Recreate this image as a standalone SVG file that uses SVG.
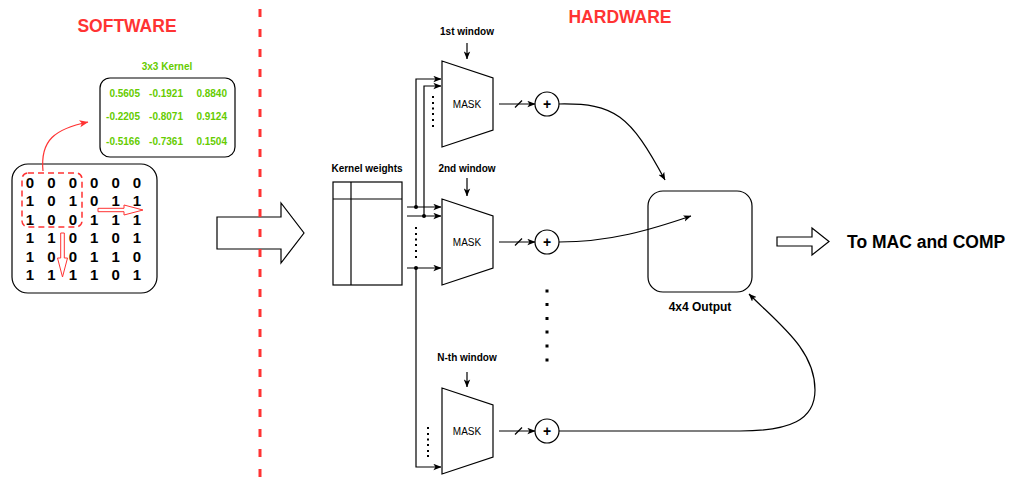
<svg xmlns="http://www.w3.org/2000/svg" width="1010" height="488" viewBox="0 0 1010 488">
<style>
  .ln{fill:none;stroke:#000;stroke-width:1.2}
  .shape{fill:#fff;stroke:#000;stroke-width:1.2}
  .t{font-family:"Liberation Sans",Arial,sans-serif;fill:#000}
  .b{font-weight:bold}
  .title{font-family:"Liberation Sans",Arial,sans-serif;font-weight:bold;font-size:17.5px;fill:#FF3333;text-anchor:middle}
  .g{font-family:"Liberation Sans",Arial,sans-serif;font-weight:bold;font-size:10px;fill:#66CC00;text-anchor:end}
  .d{font-family:"Liberation Sans",Arial,sans-serif;font-weight:bold;font-size:15px;fill:#000;text-anchor:middle}
  .dot{fill:#000}
</style>
<defs>
  <marker id="arr" viewBox="0 0 10 8" refX="9.5" refY="4" markerWidth="8" markerHeight="7" orient="auto" markerUnits="userSpaceOnUse">
    <path d="M0,0 L10,4 L0,8 L2.5,4 z" fill="#000"/>
  </marker>
  <marker id="arrR" viewBox="0 0 10 8" refX="9.5" refY="4" markerWidth="9" markerHeight="8" orient="auto" markerUnits="userSpaceOnUse">
    <path d="M0,0 L10,4 L0,8 L2.5,4 z" fill="#FF3333"/>
  </marker>
</defs>

<!-- Titles -->
<text class="title" x="127" y="32">SOFTWARE</text>
<text class="title" x="620" y="23">HARDWARE</text>

<!-- Software side -->
<g id="kernel">
  <text class="t b" x="167" y="69.5" font-size="10" fill="#66CC00" text-anchor="middle" style="fill:#66CC00">3x3 Kernel</text>
  <rect class="shape" x="100" y="78" width="135" height="79" rx="10"/>
  <text class="g" x="140" y="96.5">0.5605</text>
  <text class="g" x="183" y="96.5">-0.1921</text>
  <text class="g" x="227" y="96.5">0.8840</text>
  <text class="g" x="140" y="120">-0.2205</text>
  <text class="g" x="183" y="120">-0.8071</text>
  <text class="g" x="227" y="120">0.9124</text>
  <text class="g" x="140" y="144.5">-0.5166</text>
  <text class="g" x="183" y="144.5">-0.7361</text>
  <text class="g" x="227" y="144.5">0.1504</text>
</g>

<g id="matrix">
  <rect class="shape" x="12" y="164" width="145" height="129" rx="16"/>
  <g>
    <text class="d" x="30" y="187.5">0</text><text class="d" x="51.4" y="187.5">0</text><text class="d" x="72.8" y="187.5">0</text><text class="d" x="94.2" y="187.5">0</text><text class="d" x="115.6" y="187.5">0</text><text class="d" x="137" y="187.5">0</text>
    <text class="d" x="30" y="206">1</text><text class="d" x="51.4" y="206">0</text><text class="d" x="72.8" y="206">1</text><text class="d" x="94.2" y="206">0</text><text class="d" x="115.6" y="206">1</text><text class="d" x="137" y="206">1</text>
    <text class="d" x="30" y="224.5">1</text><text class="d" x="51.4" y="224.5">0</text><text class="d" x="72.8" y="224.5">0</text><text class="d" x="94.2" y="224.5">1</text><text class="d" x="115.6" y="224.5">1</text><text class="d" x="137" y="224.5">1</text>
    <text class="d" x="30" y="243">1</text><text class="d" x="51.4" y="243">1</text><text class="d" x="72.8" y="243">0</text><text class="d" x="94.2" y="243">1</text><text class="d" x="115.6" y="243">0</text><text class="d" x="137" y="243">1</text>
    <text class="d" x="30" y="261.5">1</text><text class="d" x="51.4" y="261.5">0</text><text class="d" x="72.8" y="261.5">0</text><text class="d" x="94.2" y="261.5">1</text><text class="d" x="115.6" y="261.5">1</text><text class="d" x="137" y="261.5">0</text>
    <text class="d" x="30" y="280">1</text><text class="d" x="51.4" y="280">1</text><text class="d" x="72.8" y="280">1</text><text class="d" x="94.2" y="280">1</text><text class="d" x="115.6" y="280">0</text><text class="d" x="137" y="280">1</text>
  </g>
  <rect x="22" y="173" width="60" height="54" rx="6" fill="none" stroke="#FF3333" stroke-width="1.5" stroke-dasharray="6 4"/>
  <polygon points="98,208.3 124,208.3 124,205 143,210 124,215 124,211.7 98,211.7" fill="#fff" stroke="#FF3333" stroke-width="1"/>
  <polygon points="60.7,233 60.7,258 57.5,258 62.5,277 67.5,258 64.3,258 64.3,233" fill="#fff" stroke="#FF3333" stroke-width="1"/>
</g>

<g id="big-arrow">
  <polygon class="shape" points="217,217 281,217 281,203 304,233 281,263 281,249 217,249"/>
</g>

<!-- divider -->
<line x1="260" y1="9" x2="260" y2="488" stroke="#FF3333" stroke-width="3" stroke-dasharray="8 12"/>

<!-- Hardware side -->
<g id="kernel-weights">
  <text class="t b" x="367" y="171.5" font-size="10" text-anchor="middle">Kernel weights</text>
  <rect class="shape" x="333" y="182" width="69" height="103"/>
  <line class="ln" x1="351" y1="182" x2="351" y2="285"/>
  <line class="ln" x1="333" y1="199" x2="402" y2="199"/>
</g>

<g id="mask1">
  <text class="t b" x="467" y="34.5" font-size="10" text-anchor="middle">1st window</text>
  <polygon class="shape" points="442,61 493,78 493,130 442,147"/>
  <text class="t" x="467" y="107.5" font-size="10" text-anchor="middle">MASK</text>
</g>
<g id="mask2">
  <text class="t b" x="467" y="171.5" font-size="10" text-anchor="middle">2nd window</text>
  <polygon class="shape" points="442,199 493,216 493,268 442,285"/>
  <text class="t" x="467" y="245.5" font-size="10" text-anchor="middle">MASK</text>
</g>
<g id="maskN">
  <text class="t b" x="467" y="360.5" font-size="10" text-anchor="middle">N-th window</text>
  <polygon class="shape" points="442,388 493,405 493,457 442,474"/>
  <text class="t" x="467" y="434.5" font-size="10" text-anchor="middle">MASK</text>
</g>

<g id="sum1">
  <circle class="shape" cx="547" cy="104" r="12"/>
  <text class="t b" x="547" y="109" font-size="14" text-anchor="middle">+</text>
</g>
<g id="sum2">
  <circle class="shape" cx="547" cy="242" r="12"/>
  <text class="t b" x="547" y="247" font-size="14" text-anchor="middle">+</text>
</g>
<g id="sumN">
  <circle class="shape" cx="547" cy="431" r="12"/>
  <text class="t b" x="547" y="436" font-size="14" text-anchor="middle">+</text>
</g>

<g id="output">
  <rect class="shape" x="648" y="191" width="104" height="101" rx="15"/>
  <text class="t b" x="700" y="311" font-size="12" text-anchor="middle">4x4 Output</text>
</g>

<g id="to-mac">
  <polygon class="shape" points="777,237 812,237 812,228 829,241.5 812,255 812,246 777,246"/>
  <text class="t b" x="847" y="248" font-size="17.5">To MAC and COMP</text>
</g>

<g id="connectors">
  <!-- window inputs -->
  <line class="ln" x1="467" y1="43" x2="467" y2="59" marker-end="url(#arr)"/>
  <line class="ln" x1="467" y1="178" x2="467" y2="196" marker-end="url(#arr)"/>
  <line class="ln" x1="467" y1="372" x2="467" y2="387" marker-end="url(#arr)"/>
  <!-- kernel weight bus -->
  <line class="ln" x1="407" y1="207" x2="441" y2="207" marker-end="url(#arr)"/>
  <line class="ln" x1="407" y1="216" x2="441" y2="216" marker-end="url(#arr)"/>
  <line class="ln" x1="407" y1="268" x2="441" y2="268" marker-end="url(#arr)"/>
  <polyline class="ln" points="416,207 416,79 441,79" marker-end="url(#arr)"/>
  <polyline class="ln" points="424,216 424,86 441,86" marker-end="url(#arr)"/>
  <polyline class="ln" points="416,268 416,467 441,467" marker-end="url(#arr)"/>
  <circle class="dot" cx="416" cy="207" r="2"/>
  <circle class="dot" cx="424" cy="216" r="2"/>
  <circle class="dot" cx="416" cy="268" r="2"/>
  <!-- mask outputs -->
  <line class="ln" x1="499" y1="104" x2="535" y2="104" marker-end="url(#arr)"/>
  <line class="ln" x1="515" y1="107.5" x2="522" y2="100.5"/>
  <line class="ln" x1="499" y1="242" x2="535" y2="242" marker-end="url(#arr)"/>
  <line class="ln" x1="515" y1="245.5" x2="522" y2="238.5"/>
  <line class="ln" x1="499" y1="431" x2="535" y2="431" marker-end="url(#arr)"/>
  <line class="ln" x1="515" y1="434.5" x2="522" y2="427.5"/>
  <!-- sums to output -->
  <path class="ln" d="M559,104 C615,103 630,115 665,180" marker-end="url(#arr)"/>
  <path class="ln" d="M559,242 C610,242 650,230 691,216" marker-end="url(#arr)"/>
  <path class="ln" d="M559,431 L740,431 C790,431 815,420 815,390 C815,350 780,325 749,294" marker-end="url(#arr)"/>
  <!-- red kernel arrow -->
  <path d="M43,171 C40,140 55,129 88,122" fill="none" stroke="#FF3333" stroke-width="1.2" marker-end="url(#arrR)"/>
</g>

<g id="ellipsis-dots">
  <g class="dot">
    <rect x="432" y="96" width="2" height="2"/><rect x="432" y="102" width="2" height="2"/><rect x="432" y="107.5" width="2" height="2"/><rect x="432" y="113" width="2" height="2"/><rect x="432" y="119" width="2" height="2"/><rect x="432" y="125" width="2" height="2"/>
    <rect x="415" y="227" width="2" height="2"/><rect x="415" y="233" width="2" height="2"/><rect x="415" y="238.5" width="2" height="2"/><rect x="415" y="244" width="2" height="2"/><rect x="415" y="250" width="2" height="2"/><rect x="415" y="256" width="2" height="2"/>
    <rect x="427" y="427" width="2" height="2"/><rect x="427" y="433" width="2" height="2"/><rect x="427" y="438.5" width="2" height="2"/><rect x="427" y="444" width="2" height="2"/><rect x="427" y="450" width="2" height="2"/><rect x="427" y="455" width="2" height="2"/>
    <rect x="545.5" y="289.5" width="3" height="3"/><rect x="545.5" y="303" width="3" height="3"/><rect x="545.5" y="317" width="3" height="3"/><rect x="545.5" y="330.5" width="3" height="3"/><rect x="545.5" y="344.5" width="3" height="3"/><rect x="545.5" y="358.5" width="3" height="3"/>
  </g>
</g>
</svg>
